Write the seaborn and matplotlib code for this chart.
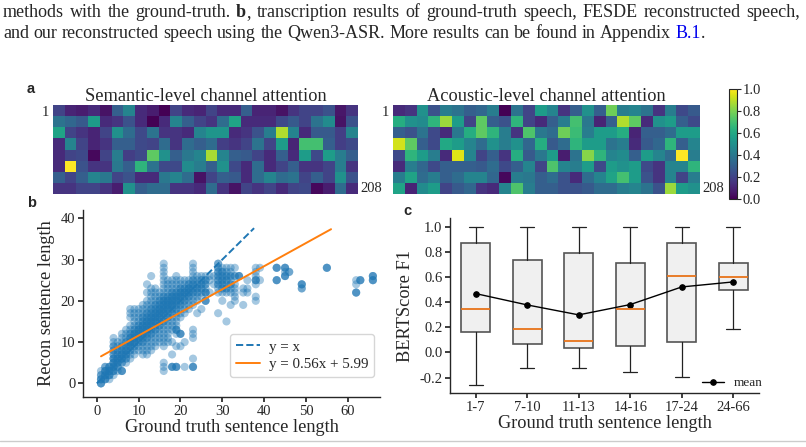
import matplotlib
matplotlib.use("Agg")
import matplotlib.pyplot as plt
import seaborn as sns
import numpy as np
import pandas as pd
from matplotlib.lines import Line2D

# ---------------- data ----------------
semantic_attn = [
    [0.20, 0.10, 0.08, 0.12, 0.05, 0.30, 0.45, 0.12, 0.08, 0.00, 0.20, 0.12, 0.10, 0.20, 0.12, 0.12, 0.30, 0.10, 0.10, 0.05, 0.15, 0.20, 0.20, 0.25, 0.06, 0.15],
    [0.38, 0.33, 0.28, 0.55, 0.12, 0.15, 0.25, 0.12, 0.00, 0.12, 0.45, 0.30, 0.20, 0.15, 0.35, 0.58, 0.12, 0.12, 0.12, 0.22, 0.28, 0.20, 0.38, 0.48, 0.05, 0.25],
    [0.58, 0.20, 0.15, 0.10, 0.20, 0.50, 0.35, 0.22, 0.38, 0.15, 0.15, 0.12, 0.45, 0.52, 0.52, 0.12, 0.15, 0.25, 0.42, 0.88, 0.45, 0.12, 0.28, 0.28, 0.18, 0.45],
    [0.12, 0.45, 0.20, 0.10, 0.15, 0.30, 0.30, 0.22, 0.20, 0.35, 0.15, 0.35, 0.30, 0.35, 0.18, 0.15, 0.20, 0.38, 0.20, 0.55, 0.10, 0.70, 0.70, 0.30, 0.18, 0.22],
    [0.12, 0.20, 0.22, 0.02, 0.20, 0.42, 0.18, 0.22, 0.75, 0.50, 0.30, 0.40, 0.45, 0.87, 0.45, 0.30, 0.28, 0.20, 0.12, 0.30, 0.12, 0.55, 0.22, 0.55, 0.42, 0.30],
    [0.12, 1.00, 0.25, 0.15, 0.15, 0.40, 0.30, 0.65, 0.38, 0.22, 0.22, 0.48, 0.42, 0.30, 0.50, 0.22, 0.12, 0.35, 0.12, 0.20, 0.30, 0.15, 0.15, 0.20, 0.42, 0.15],
    [0.30, 0.20, 0.30, 0.45, 0.40, 0.20, 0.25, 0.12, 0.12, 0.40, 0.45, 0.35, 0.05, 0.20, 0.30, 0.28, 0.12, 0.35, 0.45, 0.35, 0.38, 0.20, 0.30, 0.20, 0.50, 0.25],
    [0.15, 0.15, 0.20, 0.20, 0.15, 0.08, 0.50, 0.30, 0.35, 0.35, 0.15, 0.15, 0.12, 0.35, 0.15, 0.05, 0.20, 0.15, 0.20, 0.12, 0.20, 0.22, 0.02, 0.08, 0.35, 0.12],
]
acoustic_attn = [
    [0.12, 0.15, 0.50, 0.25, 0.42, 0.38, 0.30, 0.33, 0.42, 0.00, 0.38, 0.20, 0.55, 0.45, 0.15, 0.30, 0.50, 0.30, 0.78, 0.42, 0.45, 0.38, 0.15, 0.42, 0.22, 0.28],
    [0.62, 0.50, 0.48, 0.65, 0.85, 0.55, 0.20, 0.75, 0.30, 0.25, 0.65, 0.20, 0.12, 0.30, 0.42, 0.70, 0.40, 0.10, 0.30, 0.88, 0.75, 0.12, 0.50, 0.55, 0.30, 0.22],
    [0.30, 0.25, 0.38, 0.22, 0.12, 0.40, 0.62, 0.75, 0.65, 0.42, 0.15, 0.72, 0.40, 0.35, 0.78, 0.68, 0.42, 0.55, 0.55, 0.62, 0.10, 0.30, 0.30, 0.35, 0.55, 0.55],
    [0.93, 0.75, 0.30, 0.22, 0.60, 0.55, 0.45, 0.35, 0.50, 0.42, 0.50, 0.33, 0.62, 0.28, 0.35, 0.65, 0.55, 0.55, 0.38, 0.42, 0.12, 0.28, 0.33, 0.65, 0.30, 0.45],
    [0.22, 0.65, 0.55, 0.42, 0.12, 0.95, 0.45, 0.20, 0.30, 0.15, 0.62, 0.28, 0.40, 0.55, 0.08, 0.38, 0.82, 0.65, 0.45, 0.48, 0.30, 0.55, 0.45, 0.35, 1.00, 0.42],
    [0.12, 0.42, 0.33, 0.22, 0.30, 0.30, 0.30, 0.28, 0.35, 0.22, 0.30, 0.45, 0.20, 0.72, 0.45, 0.42, 0.55, 0.22, 0.55, 0.50, 0.55, 0.22, 0.15, 0.45, 0.45, 0.65],
    [0.42, 0.58, 0.35, 0.42, 0.30, 0.35, 0.45, 0.45, 0.33, 0.02, 0.42, 0.40, 0.30, 0.35, 0.25, 0.12, 0.35, 0.45, 0.58, 0.70, 0.55, 0.25, 0.15, 0.45, 0.20, 0.42],
    [0.58, 0.10, 0.48, 0.55, 0.20, 0.28, 0.33, 0.15, 0.12, 0.45, 0.72, 0.42, 0.30, 0.30, 0.25, 0.25, 0.28, 0.35, 0.35, 0.42, 0.45, 0.38, 0.25, 0.85, 0.55, 0.50],
]

# scatter (b): ground-truth length -> list of reconstructed lengths (repeats = overlapping samples)
gt_lengths = [1, 2, 3, 4, 5, 6, 7, 8, 9, 10, 11, 12, 13, 14, 15, 16, 17, 18, 19, 20,
              21, 22, 23, 24, 25, 26, 27, 28, 29, 30, 31, 32, 33, 34, 35, 36, 38, 39,
              43, 45, 46, 49, 55, 62, 63, 66]
recon_lengths = [
    [0, 0, 0, 1, 1, 1, 2, 2, 3],
    [1, 1, 1, 2, 2, 2, 3, 3, 3, 4, 4],
    [1, 2, 2, 2, 3, 3, 3, 4, 4, 4],
    [2, 3, 3, 3, 4, 4, 4, 5, 5, 5, 6, 6, 6, 7, 7, 8, 8, 9, 9, 10, 11],
    [3, 4, 4, 5, 5, 5, 6, 6, 6, 7, 7, 8, 8, 9, 10],
    [3, 3, 3, 5, 5, 6, 6, 6, 7, 7, 7, 8, 8, 9, 9, 10, 11, 12],
    [5, 6, 6, 7, 7, 7, 8, 8, 8, 9, 9, 10, 10, 11, 12, 13],
    [6, 7, 8, 8, 9, 9, 9, 10, 10, 10, 11, 11, 11, 12, 12, 13, 14, 16, 17, 18],
    [7, 8, 9, 9, 10, 10, 10, 11, 11, 11, 12, 12, 12, 13, 13, 14, 15, 16, 17, 18],
    [8, 9, 10, 10, 11, 11, 11, 12, 12, 12, 13, 13, 13, 14, 14, 15, 16, 17, 18],
    [7, 8, 9, 10, 10, 11, 11, 12, 12, 12, 13, 13, 13, 14, 14, 14, 15, 15, 16, 16, 17, 18, 19],
    [7, 8, 9, 10, 11, 11, 12, 12, 13, 13, 13, 14, 14, 14, 15, 15, 15, 16, 16, 17, 17, 18, 19, 20, 22, 24],
    [8, 9, 10, 11, 12, 12, 13, 13, 14, 14, 14, 15, 15, 15, 16, 16, 16, 17, 17, 18, 18, 19, 20, 21, 22, 23, 26],
    [9, 10, 11, 12, 13, 13, 14, 14, 15, 15, 15, 16, 16, 16, 17, 17, 17, 18, 18, 19, 19, 20, 21, 22, 23],
    [10, 11, 12, 13, 14, 14, 15, 15, 16, 16, 16, 17, 17, 17, 18, 18, 18, 19, 19, 20, 20, 21, 22],
    [3, 4, 5, 9, 10, 11, 12, 13, 14, 15, 15, 16, 16, 17, 17, 17, 18, 18, 18, 19, 19, 19, 20, 20, 20, 21, 21, 22, 23, 24, 25, 26, 27, 28, 29],
    [10, 11, 12, 13, 14, 15, 16, 16, 17, 17, 18, 18, 18, 19, 19, 19, 20, 20, 20, 21, 21, 22, 23, 24, 25],
    [4, 4, 4, 7, 10, 13, 14, 15, 16, 17, 17, 18, 18, 19, 19, 19, 20, 20, 20, 21, 21, 21, 22, 22, 23, 24, 25],
    [4, 4, 4, 9, 12, 13, 13, 13, 14, 15, 16, 17, 18, 18, 19, 19, 20, 20, 20, 21, 21, 21, 22, 22, 23, 24, 25, 26],
    [9, 12, 12, 12, 16, 17, 18, 19, 19, 20, 20, 21, 21, 21, 22, 22, 22, 23, 23, 24, 25],
    [4, 10, 17, 18, 19, 20, 20, 21, 21, 22, 22, 22, 23, 23, 24, 25],
    [18, 19, 20, 21, 21, 22, 22, 22, 23, 23, 23, 24, 24, 25],
    [4, 4, 4, 6, 11, 12, 13, 19, 20, 21, 22, 22, 23, 23, 24, 24, 25, 25, 26, 27, 28, 29],
    [17, 20, 21, 22, 22, 23, 23, 24, 24, 25, 26],
    [18, 21, 22, 23, 23, 24, 24, 25, 25, 26],
    [20, 20, 20, 22, 22, 22, 23, 24, 24, 25, 25, 26],
    [22, 25, 26],
    [24, 26],
    [17, 22, 23, 24, 24, 25, 25, 26, 26, 27, 27, 28, 28, 29, 29],
    [20, 22, 23, 23, 24, 24, 25, 25, 26, 26, 27, 27, 28],
    [15, 22, 23, 23, 24, 25, 25, 26, 26, 27, 28],
    [19, 22, 23, 24, 24, 25, 26, 26, 27, 28],
    [20, 21, 22, 23, 24, 26, 26, 28],
    [26, 26, 26],
    [19, 22, 23],
    [22, 23, 25],
    [20, 21, 24, 25, 25, 25, 26, 27, 28],
    [25, 28],
    [25, 25, 25, 28, 28, 28],
    [26, 26, 26, 27, 28, 28, 28],
    [27, 27],
    [23, 23, 24, 24, 24],
    [28, 28, 28],
    [22, 22, 22, 24, 25],
    [25, 25, 25],
    [25, 25, 25, 26, 26, 26],
]
identity_range = [0, 37.6]
fit_slope, fit_intercept = 0.56, 5.99
fit_range = [1, 56]

# box plot (c)
length_bins = ["1-7", "7-10", "11-13", "14-16", "17-24", "24-66"]
whisker_low = [-0.259, -0.127, -0.124, -0.156, -0.193, 0.185]
q1 = [0.164, 0.071, 0.032, 0.048, 0.087, 0.495]
median = [0.347, 0.188, 0.093, 0.349, 0.608, 0.601]
q3 = [0.873, 0.733, 0.794, 0.714, 0.873, 0.712]
whisker_high = [1.0, 1.0, 1.0, 1.0, 1.0, 1.0]
mean_f1 = [0.468, 0.378, 0.299, 0.381, 0.521, 0.561]

caption_line1 = ["methods with the ground-truth. ", "b", ", transcription results of ground-truth speech, FESDE reconstructed speech,"]
caption_line2 = ["and our reconstructed speech using the Qwen3-ASR. More results can be found in Appendix ", "B.1", "."]

# ---------------- style ----------------
sns.set_theme(style="ticks")
plt.rcParams["font.family"] = ["Liberation Serif", "DejaVu Serif"]
plt.rcParams["axes.unicode_minus"] = False
plt.rcParams["axes.linewidth"] = 1.0
plt.rcParams["xtick.major.size"] = 3.5
plt.rcParams["ytick.major.size"] = 3.5

W, H = 806, 447
fig = plt.figure(figsize=(W / 100, H / 100), dpi=100)


def px_axes(l, t, r, b):
    return fig.add_axes([l / W, 1 - b / H, (r - l) / W, (b - t) / H])


def fx(x):
    return x / W


def fy(y):
    return 1 - y / H


TICK = 10.5
LABEL = 13.2
blue = "#1f77b4"
orange = "#ff7f0e"

# ---------------- caption ----------------
renderer = fig.canvas.get_renderer()
CAP = 13.0


def tokenize(segments, styles):
    words = []
    new_word = True
    for seg, st in zip(segments, styles):
        parts = seg.split(" ")
        for i, p in enumerate(parts):
            if i > 0:
                new_word = True
            if p == "":
                continue
            if new_word:
                words.append([(p, st)])
                new_word = False
            else:
                words[-1].append((p, st))
    return words


def text_width(s, st):
    t = fig.text(0, 0, s, fontsize=CAP, **st)
    w = t.get_window_extent(renderer).width
    t.remove()
    return w


space_w = text_width("x x", {}) - text_width("xx", {})


def draw_line(segments, styles, y, right=None):
    words = tokenize(segments, styles)
    widths = [[text_width(p, st) for p, st in w] for w in words]
    total = sum(sum(w) for w in widths)
    if right is None:
        gap = space_w
    else:
        gap = max(space_w * 0.8, (right - 3 - total) / (len(words) - 1))
    x = 3
    for w, ws in zip(words, widths):
        for (p, st), pw in zip(w, ws):
            fig.text(fx(x), fy(y), p, fontsize=CAP, va="baseline", ha="left", **st)
            x += pw
        x += gap


draw_line(caption_line1, [{}, {"fontweight": "bold"}, {}], 17, right=800)
draw_line(caption_line2, [{}, {"color": "#0000ee"}, {}], 38)

# panel labels
for lab, (x, y) in zip(["a", "b", "c"], [(27, 93), (27, 207), (403, 215)]):
    fig.text(fx(x), fy(y), lab, fontsize=10.5, fontweight="bold",
             family=["Liberation Sans", "DejaVu Sans"], va="baseline")

# ---------------- heatmaps (a) ----------------
ax_sem = px_axes(53, 105, 358, 194)
ax_ac = px_axes(393, 105, 700, 194)
cax = px_axes(729, 89, 737, 199)

for ax, data, title in [(ax_sem, semantic_attn, "Semantic-level channel attention"),
                        (ax_ac, acoustic_attn, "Acoustic-level channel attention")]:
    sns.heatmap(np.array(data), cmap="viridis", vmin=0, vmax=1, cbar=False, ax=ax,
                xticklabels=False, yticklabels=False)
    ax.set_title(title, fontsize=LABEL, pad=2)
    ax.tick_params(length=0)

fig.text(fx(49), fy(112), "1", fontsize=TICK, ha="right", va="center")
fig.text(fx(360), fy(188), "208", fontsize=TICK, ha="left", va="center")
fig.text(fx(389), fy(112), "1", fontsize=TICK, ha="right", va="center")
fig.text(fx(702), fy(188), "208", fontsize=TICK, ha="left", va="center")

cb = fig.colorbar(ax_ac.collections[0], cax=cax)
cb.set_ticks([0.0, 0.2, 0.4, 0.6, 0.8, 1.0])
cb.ax.set_yticklabels(["0.0", "0.2", "0.4", "0.6", "0.8", "1.0"], fontsize=TICK)
cb.outline.set_linewidth(0.8)
cb.ax.tick_params(length=3, width=0.8, pad=1)

# ---------------- scatter (b) ----------------
ax_b = px_axes(83, 210, 380, 397)
xs, ys = [], []
for g, rl in zip(gt_lengths, recon_lengths):
    for r in rl:
        xs.append(g)
        ys.append(r)
df = pd.DataFrame({"gt": xs, "recon": ys})
sns.scatterplot(data=df, x="gt", y="recon", ax=ax_b, s=34, alpha=0.4,
                color=blue, edgecolor="none", linewidth=0)
ax_b.plot(identity_range, identity_range, ls="--", color=blue, lw=1.4, label="y = x")
fx_line = np.array(fit_range, dtype=float)
ax_b.plot(fx_line, fit_slope * fx_line + fit_intercept, color=orange, lw=1.4,
          label=f"y = {fit_slope:.2f}x + {fit_intercept:.2f}")
ax_b.set_xlim(-3.3, 67.7)
ax_b.set_ylim(-3.3, 42)
ax_b.set_xticks([0, 10, 20, 30, 40, 50, 60])
ax_b.set_yticks([0, 10, 20, 30, 40])
ax_b.tick_params(labelsize=TICK, pad=2)
ax_b.set_xlabel("Ground truth sentence length", fontsize=LABEL, labelpad=1)
ax_b.set_ylabel("Recon sentence length", fontsize=LABEL, labelpad=4)
sns.despine(ax=ax_b)
ax_b.legend(loc="lower right", bbox_to_anchor=(0.98, 0.107), borderaxespad=0,
            fontsize=10.8, frameon=True, handlelength=1.6, handletextpad=0.6,
            borderpad=0.4, labelspacing=0.25)

# ---------------- box plot (c) ----------------
ax_c = px_axes(450, 218, 759, 393)
stats = []
for i in range(len(length_bins)):
    stats.append(dict(label=length_bins[i], whislo=whisker_low[i], q1=q1[i], med=median[i],
                      q3=q3[i], whishi=whisker_high[i], fliers=[]))
ax_c.bxp(stats, positions=range(len(length_bins)), widths=0.56, patch_artist=True,
         showfliers=False,
         boxprops=dict(facecolor="#f0f0f0", edgecolor="#555555", linewidth=1.2),
         medianprops=dict(color="#e8731a", linewidth=1.3),
         whiskerprops=dict(color="#222222", linewidth=0.9),
         capprops=dict(color="#222222", linewidth=0.9))
mean_df = pd.DataFrame({"pos": range(len(length_bins)), "mean": mean_f1})
sns.lineplot(data=mean_df, x="pos", y="mean", ax=ax_c, color="black", marker="o",
             markersize=4, linewidth=1.0, markeredgecolor="black", label="mean")
ax_c.set_xlim(-0.5, 5.5)
ax_c.set_ylim(-0.322, 1.069)
ax_c.set_xticks(range(len(length_bins)))
ax_c.set_xticklabels(length_bins)
ax_c.set_yticks([-0.2, 0.0, 0.2, 0.4, 0.6, 0.8, 1.0])
ax_c.set_yticklabels(["-0.2", "0.0", "0.2", "0.4", "0.6", "0.8", "1.0"])
ax_c.tick_params(labelsize=TICK, pad=2)
ax_c.set_xlabel("Ground truth sentence length", fontsize=LABEL, labelpad=1)
ax_c.set_ylabel("BERTScore F1", fontsize=LABEL, labelpad=4)
sns.despine(ax=ax_c)
ax_c.legend(loc="lower right", bbox_to_anchor=(1.03, -0.01), frameon=False,
            fontsize=9.5, handlelength=1.6, borderaxespad=0)

# bottom rule
fig.add_artist(Line2D([0, 1], [fy(440.5), fy(440.5)], color="#cccccc", lw=1.0))

fig.savefig("out.png", dpi=100)
